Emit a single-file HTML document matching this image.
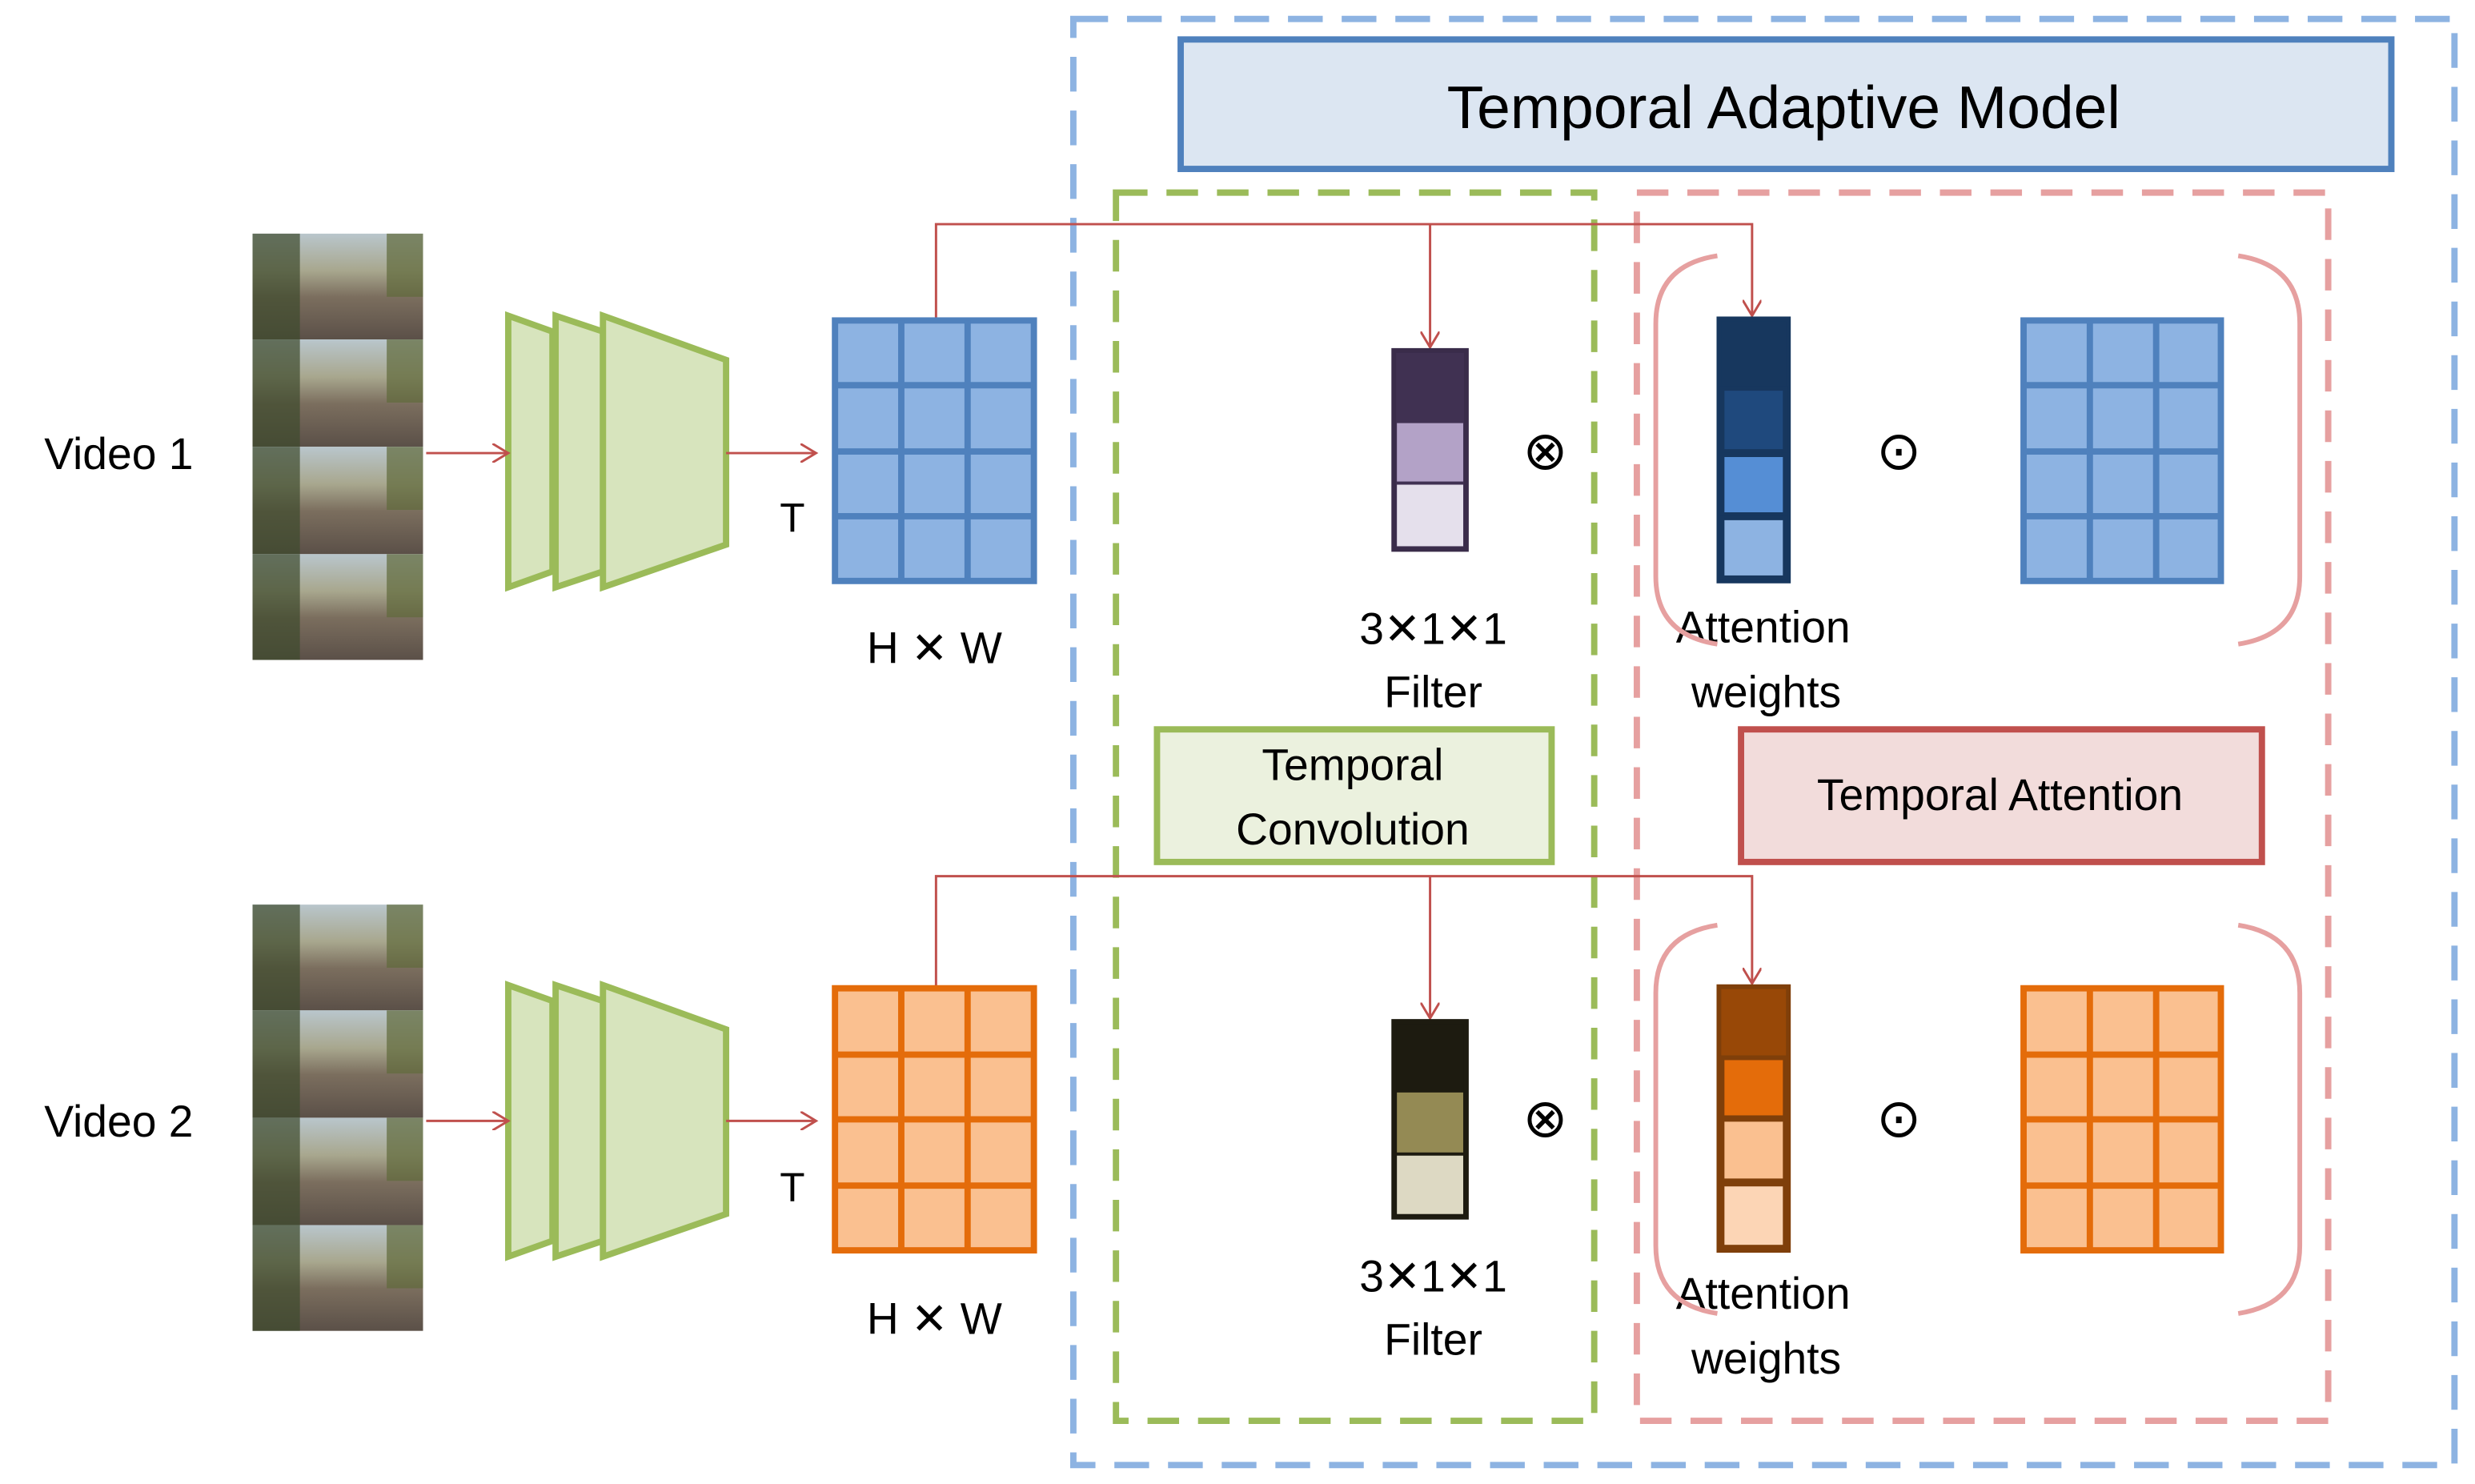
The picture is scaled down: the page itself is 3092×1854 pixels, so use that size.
<!DOCTYPE html>
<html><head><meta charset="utf-8"><style>html,body{margin:0;padding:0;background:#fff}svg{display:block}</style></head>
<body>
<svg width="3092" height="1854" viewBox="0 0 1568 940" preserveAspectRatio="none" xmlns="http://www.w3.org/2000/svg" font-family="Liberation Sans, sans-serif">
<defs>
<linearGradient id="fr" x1="0" y1="0" x2="0" y2="1">
<stop offset="0" stop-color="#b9c6cc"/><stop offset="0.35" stop-color="#a8a78e"/><stop offset="0.6" stop-color="#7b6e5e"/><stop offset="1" stop-color="#5b5048"/>
</linearGradient>
<marker id="ar" markerWidth="12" markerHeight="12" refX="10" refY="6" orient="auto" markerUnits="userSpaceOnUse"><path d="M0,0 L10,6 L0,12" fill="none" stroke="#c0504d" stroke-width="1.5"/></marker>
<g id="frames">
<rect x="0" y="0" width="108" height="67" fill="url(#fr)"/><rect x="0" y="0" width="30" height="67" fill="#3d4a2c" opacity="0.7"/><rect x="85" y="0" width="23" height="40" fill="#5f6a3a" opacity="0.7"/>
<rect x="0" y="67" width="108" height="68" fill="url(#fr)"/><rect x="0" y="67" width="30" height="68" fill="#3d4a2c" opacity="0.7"/><rect x="85" y="67" width="23" height="40" fill="#5f6a3a" opacity="0.7"/>
<rect x="0" y="135" width="108" height="68" fill="url(#fr)"/><rect x="0" y="135" width="30" height="68" fill="#3d4a2c" opacity="0.7"/><rect x="85" y="135" width="23" height="40" fill="#5f6a3a" opacity="0.7"/>
<rect x="0" y="203" width="108" height="67" fill="url(#fr)"/><rect x="0" y="203" width="30" height="67" fill="#3d4a2c" opacity="0.7"/><rect x="85" y="203" width="23" height="40" fill="#5f6a3a" opacity="0.7"/>
</g>
<g id="trap" fill="#d7e4bd" stroke="#9bbb59" stroke-width="4">
<path d="M322,200 L350,210 L350,362 L322,372 Z"/>
<path d="M352,200 L382,210 L382,362 L352,372 Z"/>
<path d="M382,200 L460,228 L460,345 L382,372 Z"/>
</g>
</defs>
<rect x="680" y="12" width="875" height="916" fill="none" stroke="#8db3e2" stroke-width="4" stroke-dasharray="22,12"/>
<rect x="748" y="25" width="767" height="82" fill="#dce6f2" stroke="#4f81bd" stroke-width="4"/>
<text x="1130" y="81" font-size="38" text-anchor="middle" fill="#000">Temporal Adaptive Model</text>
<rect x="707" y="122" width="303" height="778" fill="none" stroke="#9bbb59" stroke-width="4" stroke-dasharray="20,12"/>
<rect x="1037" y="122" width="438" height="778" fill="none" stroke="#e6a0a0" stroke-width="4" stroke-dasharray="20,12"/>

<text x="28" y="297" font-size="28">Video 1</text>
<text x="28" y="720" font-size="28">Video 2</text>
<use href="#frames" x="160" y="148"/>
<use href="#frames" x="160" y="573"/>
<use href="#trap"/>
<use href="#trap" y="424"/>

<g stroke="#c0504d" stroke-width="1.5" fill="none">
<line x1="270" y1="287" x2="322" y2="287" marker-end="url(#ar)"/>
<line x1="460" y1="287" x2="517" y2="287" marker-end="url(#ar)"/>
<line x1="270" y1="710" x2="322" y2="710" marker-end="url(#ar)"/>
<line x1="460" y1="710" x2="517" y2="710" marker-end="url(#ar)"/>
<path d="M593,203 V142 H1110 V200" marker-end="url(#ar)"/>
<line x1="906" y1="142" x2="906" y2="220" marker-end="url(#ar)"/>
<path d="M593,626 V555 H1110 V623" marker-end="url(#ar)"/>
<line x1="906" y1="555" x2="906" y2="645" marker-end="url(#ar)"/>
</g>
<text x="502" y="337" font-size="26" text-anchor="middle">T</text>
<text x="502" y="761" font-size="26" text-anchor="middle">T</text>

<g stroke="#4f81bd" stroke-width="4" fill="#8db3e2">
<rect x="529" y="203" width="126" height="165"/><path d="M571,203V368M613,203V368M529,244H655M529,286H655M529,327H655"/>
<rect x="1282" y="203" width="125" height="165"/><path d="M1324,203V368M1366,203V368M1282,244H1407M1282,286H1407M1282,327H1407"/>
</g>
<g stroke="#e46c0a" stroke-width="4" fill="#fac090">
<rect x="529" y="626" width="126" height="166"/><path d="M571,626V792M613,626V792M529,668H655M529,709H655M529,751H655"/>
<rect x="1282" y="626" width="125" height="166"/><path d="M1324,626V792M1366,626V792M1282,668H1407M1282,709H1407M1282,751H1407"/>
</g>
<text x="592" y="420" font-size="28" text-anchor="middle">H ✕ W</text>
<text x="592" y="845" font-size="28" text-anchor="middle">H ✕ W</text>

<rect x="883" y="222" width="46" height="126" fill="#403152" stroke="#3a2c4a" stroke-width="3"/>
<rect x="885" y="268" width="42" height="37" fill="#b3a2c7"/><rect x="885" y="307" width="42" height="39" fill="#e5e0ec"/>
<rect x="883" y="647" width="46" height="124" fill="#1d1b10" stroke="#1d1b10" stroke-width="3"/>
<rect x="885" y="692" width="42" height="38" fill="#948a54"/><rect x="885" y="732" width="42" height="37" fill="#ddd9c3"/>
<g font-size="28" text-anchor="middle">
<text x="908" y="408">3✕1✕1</text><text x="908" y="448">Filter</text>
<text x="908" y="818">3✕1✕1</text><text x="908" y="858">Filter</text>
<text x="1117" y="407">Attention</text><text x="1119" y="448">weights</text>
<text x="1117" y="829">Attention</text><text x="1119" y="870">weights</text>
</g>
<g font-size="34" text-anchor="middle"><text x="979" y="297">⊗</text><text x="1203" y="297">⊙</text><text x="979" y="720">⊗</text><text x="1203" y="720">⊙</text></g>

<g stroke="#17375e" stroke-width="3">
<rect x="1089" y="202" width="44" height="166" fill="#17375e"/>
<rect x="1091" y="246" width="40" height="40" fill="#1f497d"/>
<rect x="1091" y="288" width="40" height="38" fill="#558ed5"/>
<rect x="1091" y="328" width="40" height="38" fill="#8db3e2"/>
</g>
<g stroke="#7f3f0a" stroke-width="3">
<rect x="1089" y="625" width="44" height="167" fill="#984807"/>
<rect x="1091" y="670" width="40" height="38" fill="#e46c0a"/>
<rect x="1091" y="709" width="40" height="39" fill="#fac090"/>
<rect x="1091" y="750" width="40" height="40" fill="#fcd5b5"/>
</g>
<g fill="none" stroke="#e6a0a0" stroke-width="3">
<path d="M1088,162 Q1049,168 1049,205 V365 Q1049,402 1088,408"/>
<path d="M1418,162 Q1457,168 1457,205 V365 Q1457,402 1418,408"/>
<path d="M1088,586 Q1049,592 1049,629 V789 Q1049,826 1088,832"/>
<path d="M1418,586 Q1457,592 1457,629 V789 Q1457,826 1418,832"/>
</g>

<rect x="733" y="462" width="250" height="84" fill="#ebf1de" stroke="#9bbb59" stroke-width="4"/>
<text x="857" y="494" font-size="28" text-anchor="middle">Temporal</text>
<text x="857" y="535" font-size="28" text-anchor="middle">Convolution</text>
<rect x="1103" y="462" width="330" height="84" fill="#f2dcdb" stroke="#c0504d" stroke-width="4"/>
<text x="1267" y="513" font-size="28" text-anchor="middle">Temporal Attention</text>
</svg>
</body></html>
